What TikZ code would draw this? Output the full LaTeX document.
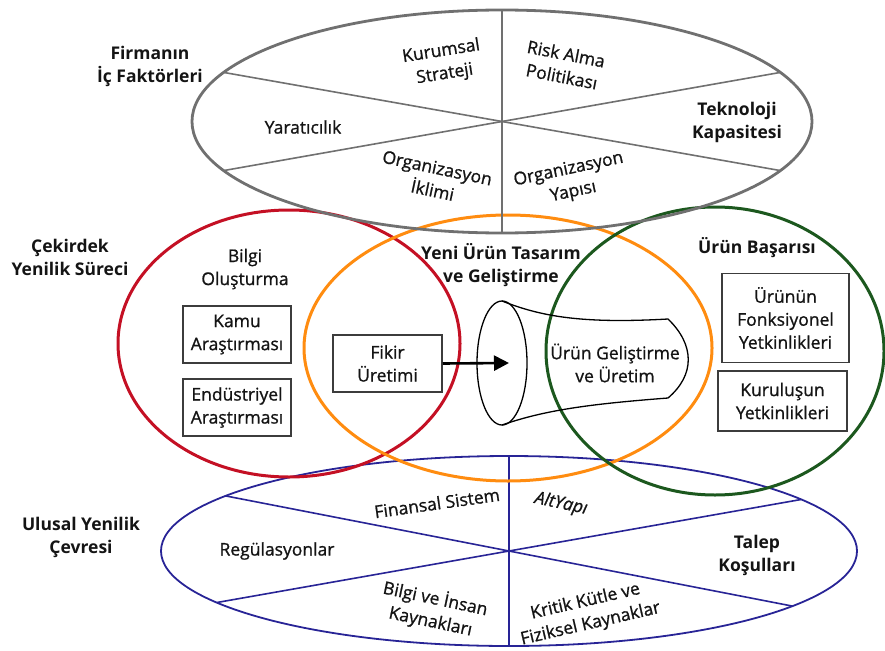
\documentclass[tikz,border=0pt]{standalone}
\usepackage{fontspec}
\setmainfont{Open Sans}[UprightFeatures={FakeBold=1},ItalicFeatures={FakeBold=1}]
\usetikzlibrary{shapes.geometric,arrows.meta}

\definecolor{framegray}{RGB}{112,112,112}
\definecolor{corered}{RGB}{196,16,36}
\definecolor{designorange}{RGB}{255,140,16}
\definecolor{successgreen}{RGB}{28,88,30}
\definecolor{envnavy}{RGB}{40,36,150}
\definecolor{boxline}{RGB}{60,60,60}
\definecolor{ink}{RGB}{20,20,20}

\tikzset{
  lbl/.style={font=\fontsize{17.5}{23}\selectfont, text=ink, align=center, inner sep=0pt},
  blbl/.style={lbl, font=\fontsize{17.5}{23}\selectfont\bfseries},
  ring/.style={ellipse, inner sep=0pt, outer sep=0pt},
  factorbox/.style={draw=boxline, line width=1.5pt, align=center, inner sep=0pt,
    font=\fontsize{17.5}{23}\selectfont, text=ink},
  spoke/.style={line width=1.6pt},
  flow/.style={line width=2.6pt, -{Triangle[length=15pt,width=15pt]}},
  funnel/.style={line width=1.3pt, draw=black}
}

\begin{document}
\begin{tikzpicture}[x=1pt,y=-1pt]
\useasboundingbox (0,0) rectangle (885,650);

% national innovation environment (bottom)
\node[ring, draw=envnavy, line width=1.8pt, minimum width=696pt, minimum height=190pt] (B) at (509,551) {};
\draw[spoke, draw=envnavy] (B.north) -- (B.south);
\draw[spoke, draw=envnavy] (B.169) -- (B.349);
\draw[spoke, draw=envnavy] (B.190) -- (B.10);

% three process rings
\node[ring, draw=corered, line width=3pt, minimum width=342pt, minimum height=267pt] (R) at (289,343.5) {};
\node[ring, draw=designorange, line width=3pt, minimum width=408pt, minimum height=266pt] (O) at (508,348) {};
\node[ring, draw=successgreen, line width=3pt, minimum width=338pt, minimum height=288pt] (GR) at (715,351) {};

% internal factors of the firm (top)
\node[ring, draw=framegray, line width=2.8pt, minimum width=620pt, minimum height=223pt] (G) at (502,121.5) {};
\draw[spoke, draw=framegray] (G.north) -- (G.south);
\draw[spoke, draw=framegray] (G.170) -- (G.350);
\draw[spoke, draw=framegray] (G.190) -- (G.10);

% side headings
\node[blbl] (firm) at (150,66) {Firmanın\\İç Faktörleri};
\node[blbl] (core) at (70,257) {Çekirdek\\Yenilik Süreci};
\node[blbl] (nat) at (81,537) {Ulusal Yenilik\\Çevresi};

% sectors of the top ellipse
\node[lbl, rotate=9] (ks) at (443,63) {Kurumsal\\Strateji};
\node[lbl, rotate=-11] (risk) at (564,65) {Risk Alma\\Politikası};
\node[lbl] (yar) at (303,127) {Yaratıcılık};
\node[blbl] (tek) at (737,122) {Teknoloji\\Kapasitesi};
\node[lbl, rotate=-12] (oi) at (435,179) {Organizasyon\\İklimi};
\node[lbl, rotate=12] (oy) at (571,181) {Organizasyon\\Yapısı};

% knowledge creation
\node[lbl] (bilgi) at (245,269) {Bilgi\\Oluşturma};
\node[factorbox, minimum width=108pt, minimum height=57pt] (kamu) at (237,334.5) {Kamu\\Araştırması};
\node[factorbox, minimum width=108pt, minimum height=57pt] (endus) at (237,407.5) {Endüstriyel\\Araştırması};

% new product design and development
\node[blbl] (yeni) at (501,265) {Yeni Ürün Tasarım\\ve Geliştirme};
\node[factorbox, minimum width=109pt, minimum height=57pt] (fikir) at (387.5,363.5) {Fikir\\Üretimi};
\node[ring, draw=black, line width=1.3pt, minimum width=50pt, minimum height=124pt] (F) at (502,363) {};
\draw[funnel] (F.north) .. controls (540,316) and (580,324) .. (668,319)
  .. controls (695,345) and (695,375) .. (668,398)
  .. controls (590,404) and (545,410) .. (F.south);
\node[lbl] (urun) at (615,363) {Ürün Geliştirme\\ve Üretim};
\coordinate (tip) at (509,363);
\draw[flow] (fikir.east) -- (tip);

% product success
\node[blbl] (basari) at (757,248) {Ürün Başarısı};
\node[factorbox, minimum width=127pt, minimum height=89pt] (fonk) at (785.5,318) {Ürünün\\Fonksiyonel\\Yetkinlikleri};
\node[factorbox, minimum width=129pt, minimum height=60pt] (kurulus) at (782.5,401) {Kuruluşun\\Yetkinlikleri};

% sectors of the bottom ellipse
\node[lbl, rotate=8] (fin) at (437,503) {Finansal Sistem};
\node[lbl, rotate=-12, font=\fontsize{17.5}{23}\selectfont\itshape] (alt) at (561,504) {AltYapı};
\node[lbl] (reg) at (277,551) {Regülasyonlar};
\node[blbl] (talep) at (757,555) {Talep\\Koşulları};
\node[lbl, rotate=-12] (bik) at (433,610) {Bilgi ve İnsan\\Kaynakları};
\node[lbl, rotate=13] (kkf) at (588,613) {Kritik Kütle ve\\Fiziksel Kaynaklar};
\end{tikzpicture}
\end{document}
